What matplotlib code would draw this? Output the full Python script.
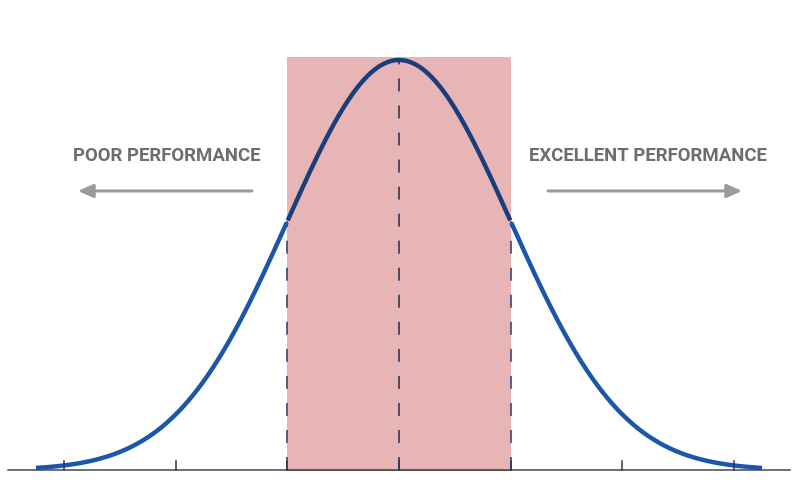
import numpy as np
import matplotlib
matplotlib.use("Agg")
import matplotlib.pyplot as plt
from matplotlib.colors import to_rgb

# distribution + annotation data (in standard deviations)
mean = 0.0
sd = 1.0
curve_range = (-3.25, 3.25)
axis_range = (-3.5, 3.5)
tick_sigmas = [-3, -2, -1, 0, 1, 2, 3]
band = (-1.0, 1.0)
band_top = 0.402
dashed_sigmas = [-1, 0, 1]
labels = ["POOR PERFORMANCE", "EXCELLENT PERFORMANCE"]
label_x = [-2.077, 2.229]
label_y = 0.3055
arrow_from = [-1.316, 1.334]
arrow_to = [-2.874, 3.071]
arrow_y = 0.2715

CURVE = "#1b57a9"
PINK = "#e8b5b7"
DASH = "#2e3a68"
AXIS = "#46464f"
TICK = "#2d3656"
TEXT = "#6d6d6d"
ARROW = "#9b9b9b"


def multiply(c, overlay=PINK):
    a = np.array(to_rgb(c))
    b = np.array(to_rgb(overlay))
    return tuple(a * b)


def pdf(x):
    return np.exp(-0.5 * ((x - mean) / sd) ** 2) / (sd * np.sqrt(2 * np.pi))


plt.rcParams["font.family"] = ["Roboto", "DejaVu Sans"]

fig = plt.figure(figsize=(8, 4.88), dpi=100)
ax = fig.add_axes([0, 0, 1, 1])
ax.set_xlim(-3.572, 3.590)
ax.set_ylim(-0.0175, 0.4573)
ax.axis("off")

# shaded band
ax.fill_between(band, [-0.001, -0.001], [band_top, band_top], color=PINK, lw=0, zorder=1)

# curve, darker where it sits under the band
xs = np.linspace(curve_range[0], curve_range[1], 800)
ys = pdf(xs)
inside = (xs >= band[0]) & (xs <= band[1])
left = xs <= band[0]
right = xs >= band[1]
ax.plot(xs[left], ys[left], color=CURVE, lw=3.2, solid_capstyle="butt", zorder=3)
ax.plot(xs[right], ys[right], color=CURVE, lw=3.2, solid_capstyle="butt", zorder=3)
ax.plot(xs[inside], ys[inside], color=multiply(CURVE), lw=3.2, solid_capstyle="butt", zorder=3)

# dashed sigma lines
for s in dashed_sigmas:
    col = multiply(DASH) if band[0] < s < band[1] else DASH
    ax.plot([s, s], [0, pdf(s)], color=col, lw=1.1,
            linestyle=(0, (8.5, 9.2)), zorder=2)

# baseline and ticks
ax.plot([axis_range[0], band[0]], [0, 0], color=AXIS, lw=1.1, zorder=4)
ax.plot([band[1], axis_range[1]], [0, 0], color=AXIS, lw=1.1, zorder=4)
ax.plot([band[0], band[1]], [0, 0], color=multiply(AXIS), lw=1.1, zorder=4)
for t in tick_sigmas:
    ax.plot([t, t], [0, 0.0088], color=TICK, lw=1.1, zorder=4)

# labels and arrows
for lab, lx, x0, x1 in zip(labels, label_x, arrow_from, arrow_to):
    ax.text(lx, label_y, lab, ha="center", va="center", fontsize=13.4,
            fontweight="bold", color=TEXT)
    ax.annotate("", xy=(x1, arrow_y), xytext=(x0, arrow_y),
                arrowprops=dict(arrowstyle="-|>,head_length=0.9,head_width=0.4",
                                color=ARROW, lw=2.2, shrinkA=0, shrinkB=0))

fig.savefig("out.png", dpi=100)
